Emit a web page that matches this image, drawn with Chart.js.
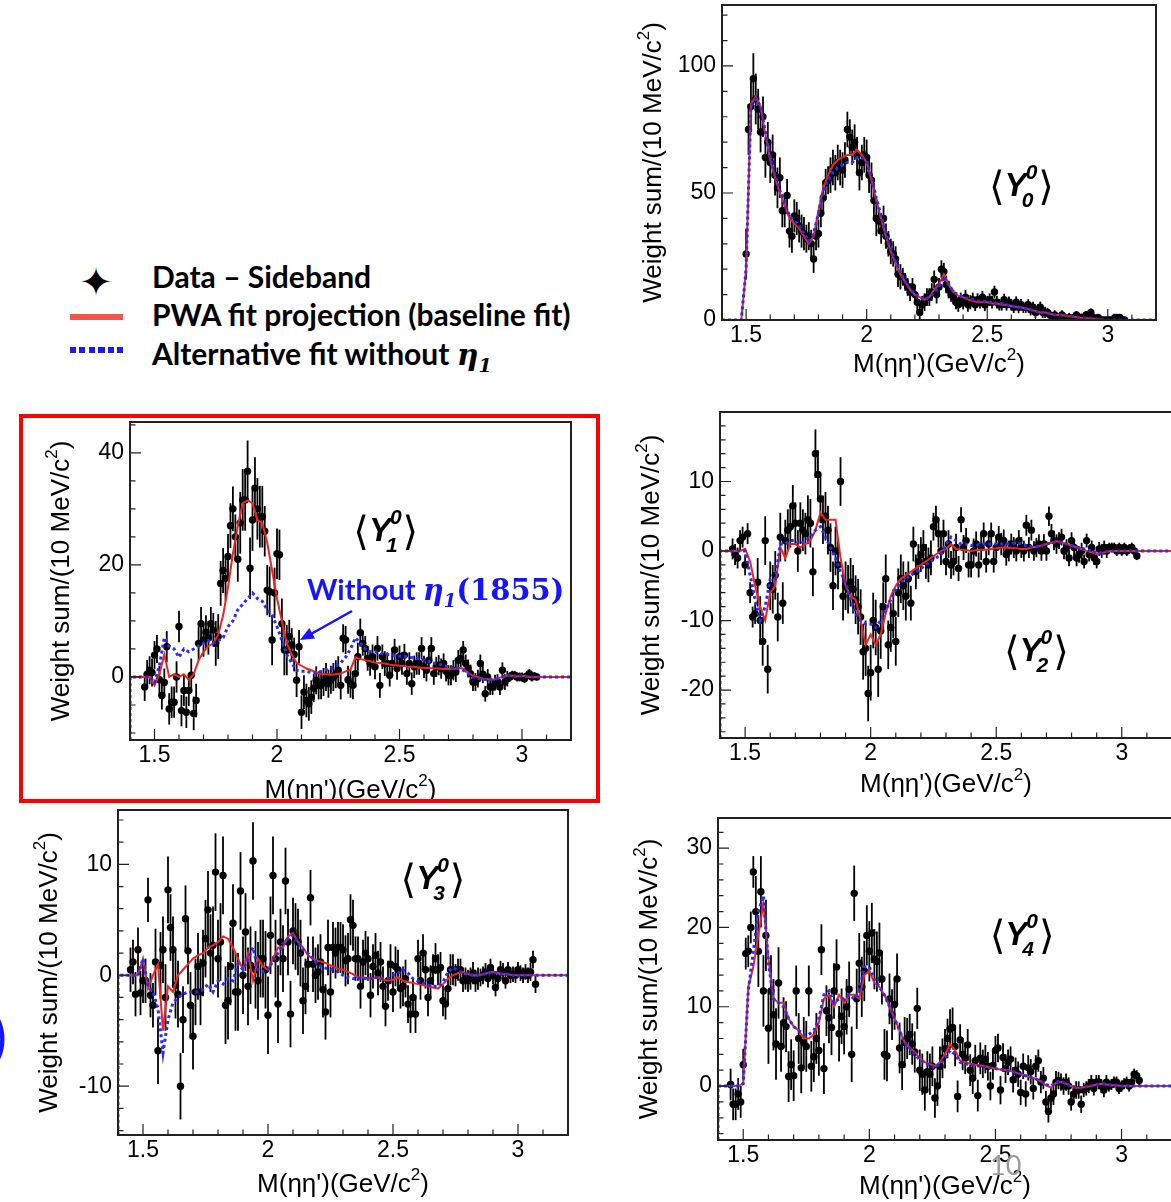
<!DOCTYPE html>
<html>
<head>
<meta charset="utf-8">
<script src="https://cdn.jsdelivr.net/npm/chart.js@4.4.1/dist/chart.umd.min.js"></script>
<style>
  body { margin: 0; width: 1171px; height: 1202px; position: relative; overflow: hidden; background: #fff; }
  canvas { position: absolute; }
  .leg { position: absolute; font-family: Lato, sans-serif; font-weight: bold; font-size: 30px; line-height: 34px; color: #000; white-space: nowrap; }
  .math { font-family: "DejaVu Serif", serif; font-style: italic; font-weight: bold; }
  .num { font-family: "DejaVu Serif", serif; font-weight: bold; }
</style>
</head>
<body>

<div class="leg" style="left:71px;top:258px;width:50px;line-height:48px;text-align:center;font-family:'DejaVu Sans';font-size:40px;font-weight:normal">✦</div>
<div class="leg" style="left:152px;top:259px">Data – Sideband</div>
<div style="position:absolute;left:70px;top:314px;width:53px;height:6px;background:#f5544a"></div>
<div class="leg" style="left:152px;top:297px">PWA fit projection (baseline fit)</div>
<div style="position:absolute;left:70px;top:347px;width:53px;height:6px;background:repeating-linear-gradient(90deg,#1a1aff 0 6px,transparent 6px 9.5px)"></div>
<div class="leg" style="left:152px;top:336px">Alternative fit without <span class="math">η<sub style="font-size:19px">1</sub></span></div>

<canvas id="c0"></canvas>
<canvas id="c1"></canvas>
<canvas id="c2"></canvas>
<canvas id="c3"></canvas>
<canvas id="c4"></canvas>

<div style="position:absolute;left:19px;top:414px;width:581px;height:389px;border:4px solid #ff0000;box-sizing:border-box"></div>
<div class="leg" style="left:307px;top:572px;color:#1414ff;font-size:29px">Without <span class="math">η<sub style="font-size:18px">1</sub></span><span class="num">(1855)</span></div>
<svg style="position:absolute;left:0;top:0" width="1171" height="1202">
  <line x1="352" y1="611" x2="311" y2="634" stroke="#1414ff" stroke-width="2.5"/>
  <polygon points="300,640 315.1,638.4 309.3,628" fill="#1414ff"/>
</svg>
<div class="leg" style="left:-8px;top:1006px;color:#1414ff;font-size:56px;line-height:60px;font-weight:normal">)</div>
<div class="leg" style="left:990px;top:1150px;color:#9a9a9a;font-size:27px;line-height:30px;font-weight:normal">10</div>

<script>
// bin centres of the data (10 MeV bins) and of the fit curves (20 MeV steps)
const DATA_MASS = Array.from({ length: 163 }, (_, i) => +(1.45 + 0.01 * i).toFixed(2));
const FIT_MASS = Array.from({ length: 91 }, (_, i) => +(1.40 + 0.02 * i).toFixed(2));

const X_TICKS = [1.5, 2, 2.5, 3];
const Y0_TICKS = [0, 50, 100];
const Y1_TICKS = [0, 20, 40];
const Y2_TICKS = [-20, -10, 0, 10];
const Y3_TICKS = [-10, 0, 10];
const Y4_TICKS = [0, 10, 20, 30];

// <Y00>
const Y0_DATA = [
  null,null,null,null,null,26,75,84,95,87,
  83,74,80,64,70,62,65,57,52,56,
  43,43,49,35,33,41,40,37,35,34,
  32,33,30,24,33,34,42,48,54,55,
  57,60,58,62,60,59,63,75,72,68,
  70,65,58,62,65,64,57,55,47,40,
  39,35,40,33,30,27,26,24,18,17,
  17,15,13,11,13,10,7,3,6,7,
  9,9,11,16,10,13,20,19,14,12,
  10,9,7,6,8,7,9,6,7,8,
  6,8,7,9,6,7,8,7,11,7,
  6,6,8,6,7,6,5,7,5,6,
  5,5,6,4,5,3,4,5,3,3,
  3,2,1,2,0,1,2,1,0,1,
  0,1,2,1,1,0,2,1,3,1,
  0,1,0,0,0,0,0,0,1,1,
  1,0,0
];
// error half-length, one value per 0.1 GeV row of the data
const Y0_ERR = [10,8,6.5,5.5,7,7,5,3.5,3.5,2.8,2.5,2.3,2.2,1.8,1.5,1.2,1];
const Y0_RED = [
  0,0,0,0,0,20,85,88,84,73,
  63,56,50,45,40,38,36,33,30,33,
  43,52,57,61,63,64,65,65,67,65,
  62,55,47,40,33,27,22,18,15,12,
  10,9,8,9,12,14,18,14,11,9.5,
  9,8,7.5,7,7,7,6.5,6.5,6,6,
  5.5,5,5,4.5,4,3.5,3,3,2.5,2,
  2,1.8,1.5,1.3,1,0.8,0.7,0.5,0.3,0.1,
  0,0,0,0,0,0,0,0,0,0,
  0
];
const Y0_BLUE = [
  0,0,0,0,0,20,84,87,84,74,
  64,57,51,46,41,39,37,34,31,34,
  42,51,55,58,60,61,62,62,64,64,
  62,56,48,41,34,28,23,19,15,12,
  10,9,8,9,11,13,17,14,11,10,
  9,8.5,8,7.5,7.5,7,7,6.5,6.5,6,
  5.5,5.2,5,4.5,4,3.5,3,3,2.5,2,
  2,1.8,1.5,1.3,1,0.8,0.7,0.5,0.3,0.1,
  0,0,0,0,0,0,0,0,0,0,
  0
];

// <Y01>
const Y1_DATA = [
  null,-1.8,0.5,1.2,0.8,3.9,5,-0.5,-3.3,-1,
  5.4,-5.7,-4.5,-4.5,0,9,-6,-2.4,-6.3,-2.4,
  0.3,-6.5,-4.2,6,9.5,6.6,8,7,9.5,8.4,
  6,7.2,16.7,19,17.6,21.5,27,30,25,21,
  27.5,31.6,31.6,36.7,19.4,28,33.7,30,28.6,28.6,
  26,15.5,15.2,6.6,15,22,21.8,9.5,4.8,4.8,
  7.2,5.7,4,-0.6,5.4,-6.3,-2.7,-4.2,-4.8,-3.6,
  -2,-0.6,-1.5,-1.5,-0.9,0,-1.2,-0.5,0,0.5,
  1.2,-1.5,6.9,6.6,-0.5,-1.2,-1.5,0.6,3.6,7.9,
  6,5.1,3.3,2.4,3.6,1.8,5.1,-1.5,3.6,2.4,
  2.4,0.3,2.4,4.8,1.5,3.6,2.4,3.9,0.6,2.4,
  -1.2,1.8,2.4,2.4,5.1,1.8,1.2,3,5.1,0.6,
  1.8,2.1,1.5,2.4,1,0.3,0.3,1.2,0.9,3,
  3.3,4.8,2.4,1.5,0.6,-0.9,-0.9,-0.3,2.4,0.5,
  -3,0,-1.8,-1.8,-1,-0.9,-1.8,1.2,-0.9,-0.3,
  0,0.3,0.3,0,0,0,-0.3,0.2,0.6,0,
  0.2,0,null
];
const Y1_ERR = [2.5,2.8,3,4,5.5,4.5,3,2.5,2.5,2.2,2,2,1.8,1.6,1.4,0.8,0.6];
const Y1_RED = [
  0,0,0,0,0,-1.5,0.5,4,0,0.5,
  0,0.5,-0.5,0.5,3,4.5,5.5,6,7.5,11,
  16,22,27,31,31.5,31,28,27.5,24,19,
  14,10,6,4,2.5,2,1.5,1.2,0.8,0.5,
  0.5,0.4,0.5,0.6,1,1.3,3.5,3.2,3,2.8,
  2.6,2.5,2.4,2.2,2.1,2,1.9,1.8,1.8,1.7,
  1.6,1.6,1.5,1.5,1.4,1.4,1.4,1.6,1.5,0.8,
  0.2,0,-0.3,-0.4,-0.5,-0.3,0,0.2,0.2,0.1,
  0.2,0.1,0,0,0,0,0,0,0,0,
  0
];
const Y1_BLUE = [
  0,0,0,0,0,-1,2,7,5.5,5,
  3.5,5,4.5,5,5.5,6,6.5,6,6.5,7,
  9,10,12,13,14,15,14,13.5,12,11,
  9,6.5,4,2.5,1.2,1,1,0.8,0.7,1,
  1.3,1.5,2,2.5,3.5,5,7,6,5,4.5,
  4.5,4.3,4,4,3.8,3.7,3.7,3.5,3.4,3.2,
  3,2.8,2.5,2.3,2,1.8,1.5,1.5,1.2,0.6,
  0,-0.3,-0.4,-0.5,-0.5,-0.3,0,0.2,0.2,0.1,
  0.2,0.1,0,0,0,0,0,0,0,0,
  0
];

// <Y02>
const Y2_DATA = [
  0.3,-0.5,-1,1.5,2,-2,2.5,-6,-9.5,-9,
  -4.5,-10,-13,1.5,-17,-5,-5.5,-3.5,-9.5,2,
  -7.5,1.5,3,3.5,6.5,4,0,4,3,2.5,
  4.5,4,-3,14,11,7.5,4.5,5,3,0.5,
  -5,0,-2,10,-6.5,-5,-5.5,-4.5,-5.5,-7,
  -8,-9.5,-14.5,-14,-20.5,-17.5,-10,-11,-17,-11.5,
  -8,-4,-13.5,-11,-9,-13,-6,-4,-5,-6.5,
  -4,-7.5,1,-3,-1.5,-0.5,0.5,-1.5,-2,-1,
  3.5,4.5,2.5,0,2.5,-1.5,1,-2,-1.5,0.5,
  -2.5,4.5,0.5,1.5,-2,-2,0,1,-2,0.5,
  2.5,-1.5,1,2.5,-1.5,0.5,2,1,1.5,-0.5,
  0,1,0.5,0,1.5,0.5,0,3.7,0.5,3,
  0,0.5,1,0,1,0,5,2.5,1.5,1,
  1.5,2,0,0.5,-1,1.5,0.5,-1,-0.5,0,
  -1.5,1.5,-0.5,0.5,-1,-1.5,0.3,0,0.5,0,
  0.5,0.5,0.5,0,0.5,0,0.5,0,0.3,0.5,
  0,-0.7,null
];
const Y2_ERR = [1.5,3.5,3,3.5,3.5,4,3.5,2.5,2,1.8,1.6,1.5,1.4,1.2,1,0.7,0.6];
const Y2_RED = [
  0,0,0,0,0,0.3,-1.5,-5,-8,-10,
  -6,-5,0.5,-1,1,1,0.5,1,1.5,3,
  5.5,4.5,4.5,4.5,-1,-5,-6.5,-7,-10,-13.5,
  -12,-13.5,-12,-9,-6.5,-5,-4,-3.5,-3,-2.5,
  -2,-1.5,-1,-0.5,0,0.3,1,0.3,0.2,0.1,
  0,0.1,0.2,0.2,0.3,0.4,0.5,0.5,0.4,0.4,
  0.3,0.3,0.5,0.6,0.8,1,1.2,1.4,1.3,1,
  0.8,0.5,0.3,0,-0.2,-0.4,-0.3,-0.1,0,0,
  0,0,0,0,0,0,0,0,0,0,
  0
];
const Y2_BLUE = [
  0,0,0,0,0,0,-3.5,-7,-10,-8,
  -4,-4,1,1,1.5,1.5,1,1.5,2,3,
  3.5,2,0.5,-1,-3,-4.5,-7,-9,-10,-10.5,
  -10.5,-11,-10,-8.5,-7,-5.5,-4.5,-4,-3.5,-3,
  -2.5,-2,-1.5,-1,-0.5,1,2,1.5,1,1,
  0.8,0.8,1,1,1,1,1,1,1,1.2,
  1,0.8,0.6,0.6,0.8,1,1.2,1.3,1.2,1,
  0.8,0.6,0.4,0.2,0,-0.2,-0.3,-0.1,0,0,
  0,0,0,0,0,0,0,0,0,0,
  0
];

// <Y03>
const Y3_DATA = [
  0.5,1.2,-1.7,2.3,-1.6,-0.5,-0.5,6.8,-1.8,-2.7,
  1.2,-6.8,0.9,2.3,-2,7.7,4.3,2.3,-0.9,-1.7,
  -10,-4,5.1,2.2,-2.7,-5.5,-1.5,0.8,-1.5,1.1,
  3.3,5.9,2,2.7,9.3,1.5,3,9,-2.7,-2.3,
  0.8,4.7,-1.5,-1.5,7.6,0,3.9,-1,0.9,10.3,
  0.5,-0.5,1.5,1.5,0.5,-3.6,3.6,9,1.5,-2.6,
  3,1.5,8.5,3,-3.5,4,3.5,3,2,-2.3,
  -1,1,7,1,0,0.3,1.2,-1.3,-3.3,2.5,
  -1.5,2.5,2,2.5,2.5,2.3,1.3,1.5,5,4.5,
  1.5,1.5,-1,1.2,2,1.5,-1.8,0.8,1.8,0.2,
  1.2,-1,-2.8,-0.5,1,-1.5,0.8,0.5,-1.2,-1,
  -0.3,-2.6,-3.5,-2,-3.5,1.5,-0.5,2,0.5,-2,
  -0.5,0.5,1.5,0.5,0.7,-2.3,-2.6,-1.2,0.5,0.5,
  0,0.5,0.5,-0.5,-0.3,-0.5,-0.3,0.2,-0.5,-0.3,
  -0.2,0,0.3,-0.3,0.7,0,-1.1,-0.3,0.5,0.3,
  -0.5,0.5,0,0.1,0,0.5,0.2,0,0.3,0,
  0.3,1.4,-0.8
];
const Y3_ERR = [2,3,3,3.5,3.5,3.5,3,2.5,2.3,2,1.8,1.7,1.4,1,0.8,0.7,0.8];
const Y3_RED = [
  0,0,0,0,0,1.5,-1.2,0,1,-5,
  -1,-1.5,0,0.5,1,1.5,1.8,2,2.5,2.7,
  3,3.5,3.3,2.5,1.5,0.5,2,-0.5,1.5,0.8,
  0.5,1.5,2.5,2.5,3.5,3.8,3,2.5,1.8,1.5,
  1.3,1.2,1,0.8,0.6,0.5,0.3,0.1,-0.2,-0.2,
  -0.3,-0.3,-0.2,-0.4,-0.5,-0.4,-0.2,-0.5,-0.6,-0.7,
  -0.8,-0.9,-1,-1.1,-1.2,-0.8,-0.3,0,0.2,0.3,
  0.1,0,0,0.1,0.2,0.3,0.2,0.1,0.1,0,
  0,0,0,0,0,0,0,0,0,0,
  0
];
const Y3_BLUE = [
  0,0,0,0,0,1.5,-1,-1.5,-3,-7,
  -4,-2.5,-2,-1.7,-1.5,-1.5,-1.5,-1.3,-0.8,-1.5,
  -0.5,-0.8,-0.3,-0.5,1,0.5,1.5,2.5,0.5,0.3,
  0.5,1.3,2,2.8,3.3,3.6,3,2.3,2,1.5,
  1,0.7,0.6,0.5,0.3,0,-0.2,-0.3,-0.3,-0.2,
  -0.4,-0.2,-0.2,-0.3,-0.3,0,0.2,0.5,0.2,-0.3,
  -0.5,-0.7,-0.9,-1,-1,-0.6,0.3,0.7,0.4,0.2,
  0.1,0,0,0.1,0.2,0.3,0.2,0.1,0.1,0,
  0,0,0,0,0,0,0,0,0,0,
  0
];

// <Y04>
const Y4_DATA = [
  0.2,-2.3,-2.3,-1,-2,2.7,16.7,17,20,27,
  22,17,24.5,12,19,7.3,12,9,5.3,13,
  5,8,7.5,1.2,2.7,1.3,12,6,2.3,5.5,
  5,12,2.5,3.7,6,4.5,17.2,2.2,9.5,8.6,
  7.4,12,15,6.6,8.8,7.5,10,12.2,4,24.3,
  11,15.5,12.5,14.5,19,17,19.3,16,15.7,16.8,
  13.5,4,3.8,11,9,10.3,13.5,4.8,2.7,5.5,
  6,6.5,5.3,4.3,9.8,2,1.5,-0.5,1.8,1.5,
  2.5,-1.5,0,2.5,3.5,4.7,6,7.2,7.4,5,
  -1.3,5.8,4,3.5,5.2,2,1,3.2,-1.2,3.5,
  2.8,3.4,2.5,0,2.6,4.5,4.8,-0.5,3.6,2.2,
  3,3.4,0.8,2,1.5,-0.8,2.5,-1,2.3,1.8,
  -0.3,2.5,3.2,0.5,1,-2,-3.2,-1.5,-1,0.5,
  0.7,0.5,0,0.5,0,-2,-1,-0.5,-0.5,-2.3,
  -0.5,-0.3,0,0.5,-0.3,0.5,0.5,0,-0.5,0.5,
  0,0.2,0.5,0.5,-0.3,0,0.3,0.5,0,0.5,
  1.5,1.3,0.7
];
const Y4_ERR = [2,4.5,3.2,3.2,3.5,3.8,3.2,2.6,2.5,2,1.8,1.6,1.4,1.1,0.9,0.7,0.7];
const Y4_RED = [
  0,0,0,0,0,0.3,12.5,15,19,23,
  16,11,10.5,10.5,8.5,7.5,7,6,6,6.5,
  8,11,11.5,10,11.5,10.5,11.5,11.5,11,14,
  14.5,13,12.5,11.5,10,8.5,7,5.5,4.8,4.3,
  3.5,3,2.8,2.5,3,4,5.3,4.5,3.2,3,
  2.8,2.7,2.6,2.5,2.3,2.2,2.1,2,1.9,1.7,
  1.5,1.3,1.1,0.9,0.6,0.1,-0.2,0.4,0.5,0.3,
  0,-0.2,-0.2,-0.1,0,0.2,0.3,0.2,0.1,0.1,
  0,0,0,0,0,0,0,0,0,0,
  0
];
const Y4_BLUE = [
  0,0,0,0,0,0.3,12,17,22,24,
  15.5,11,10.5,10,8.5,7.5,7,6.5,6.5,7,
  8.5,11.5,12,10.5,11,11,11.5,11,12,15,
  15,13.5,12.5,11.5,10,8.5,7,5.5,4.8,4,
  3.3,3,2.6,2.3,2.8,3.5,4.5,4,3,2.8,
  2.7,2.6,2.5,2.4,2.3,2.2,2.1,2,1.9,1.7,
  1.5,1.3,1.1,0.9,0.6,0.2,0,0.5,0.6,0.3,
  0,-0.2,-0.2,-0.1,0,0.2,0.3,0.2,0.1,0.1,
  0,0,0,0,0,0,0,0,0,0,
  0
];

const PANELS = [
  { canvas: 'c0', n: 0, frame: [722, 5, 1156, 320], yMin: 0, yMax: 124, yTicks: Y0_TICKS, yMinor: 10, titleGap: 45,
    data: Y0_DATA, err: Y0_ERR, red: Y0_RED, blue: Y0_BLUE, label: [0.69, 0.57] },
  { canvas: 'c1', n: 1, frame: [130, 422, 571, 740], yMin: -11.25, yMax: 45.5, yTicks: Y1_TICKS, yMinor: 5, titleGap: 51,
    data: Y1_DATA, err: Y1_ERR, red: Y1_RED, blue: Y1_BLUE, label: [0.58, 0.34] },
  { canvas: 'c2', n: 2, frame: [720, 412, 1172, 738], yMin: -26.9, yMax: 20, yTicks: Y2_TICKS, yMinor: 2, titleGap: 47,
    data: Y2_DATA, err: Y2_ERR, red: Y2_RED, blue: Y2_BLUE, label: [0.70, 0.73] },
  { canvas: 'c3', n: 3, frame: [118, 810, 568, 1135], yMin: -14.4, yMax: 14.9, yTicks: Y3_TICKS, yMinor: 2, titleGap: 50,
    data: Y3_DATA, err: Y3_ERR, red: Y3_RED, blue: Y3_BLUE, label: [0.70, 0.21] },
  { canvas: 'c4', n: 4, frame: [718, 818, 1172, 1140], yMin: -6.8, yMax: 33.8, yTicks: Y4_TICKS, yMinor: 2, titleGap: 47,
    data: Y4_DATA, err: Y4_ERR, red: Y4_RED, blue: Y4_BLUE, label: [0.67, 0.36] }
];

const AXIS_FONT = '"Liberation Sans", Arial, sans-serif';

// text with a superscript piece, centred on (cx, cy)
function drawWithSup(ctx, before, sup, after, cx, cy, size) {
  ctx.font = size + 'px ' + AXIS_FONT;
  const w1 = ctx.measureText(before).width, w3 = ctx.measureText(after).width;
  ctx.font = Math.round(size * 0.65) + 'px ' + AXIS_FONT;
  const w2 = ctx.measureText(sup).width;
  let x = cx - (w1 + w2 + w3) / 2;
  ctx.textAlign = 'left';
  ctx.textBaseline = 'middle';
  ctx.font = size + 'px ' + AXIS_FONT;
  ctx.fillText(before, x, cy);
  x += w1;
  ctx.font = Math.round(size * 0.65) + 'px ' + AXIS_FONT;
  ctx.fillText(sup, x, cy - size * 0.38);
  x += w2;
  ctx.font = size + 'px ' + AXIS_FONT;
  ctx.fillText(after, x, cy);
}

function drawMoment(ctx, cx, cy, n) {
  const fb = '40px "DejaVu Sans", "Noto Sans CJK SC"';
  const fy = 'italic bold 33px ' + AXIS_FONT;
  const fs = 'italic bold 21px ' + AXIS_FONT;
  ctx.textAlign = 'left';
  ctx.textBaseline = 'alphabetic';
  ctx.font = fb; const wb = ctx.measureText('⟨').width;
  ctx.font = fy; const wy = ctx.measureText('Y').width;
  ctx.font = fs; const ws = ctx.measureText('0').width;
  let x = cx - (2 * wb + wy + ws) / 2;
  const base = cy + 11;
  ctx.font = fb; ctx.fillText('⟨', x, base + 4); x += wb;
  ctx.font = fy; ctx.fillText('Y', x, base); x += wy;
  ctx.font = fs;
  ctx.fillText('0', x - 1, base - 17);
  ctx.fillText(String(n), x - 5, base + 11);
  x += ws;
  ctx.font = fb; ctx.fillText('⟩', x, base + 4);
}

function panelPlugin(p) {
  return {
    id: 'frame' + p.n,
    afterDatasetDraw(chart, args) {
      if (args.index !== 0) return;
      const { ctx, chartArea: a, scales: { x, y } } = chart;
      ctx.save();
      ctx.beginPath();
      ctx.rect(a.left, a.top, a.right - a.left, a.bottom - a.top);
      ctx.clip();
      ctx.strokeStyle = '#000';
      ctx.lineWidth = 1.8;
      p.data.forEach((v, i) => {
        if (v === null) return;
        const e = p.err[Math.floor(i / 10)];
        const px = x.getPixelForValue(DATA_MASS[i]);
        ctx.beginPath();
        ctx.moveTo(px, y.getPixelForValue(v - e));
        ctx.lineTo(px, y.getPixelForValue(v + e));
        ctx.stroke();
      });
      ctx.restore();
    },
    afterDraw(chart) {
      const { ctx, chartArea: a, scales: { x, y } } = chart;
      ctx.save();
      ctx.strokeStyle = '#222';
      ctx.fillStyle = '#000';
      ctx.lineWidth = 2;
      ctx.strokeRect(a.left, a.top, a.right - a.left, a.bottom - a.top);

      ctx.lineWidth = 1.2;
      ctx.beginPath();
      for (let k = 14; k <= 32; k++) {
        const px = x.getPixelForValue(k / 10);
        const len = k % 5 === 0 ? 11 : 5.5;
        ctx.moveTo(px, a.bottom);
        ctx.lineTo(px, a.bottom - len);
      }
      for (let k = Math.ceil(p.yMin / p.yMinor); k * p.yMinor <= p.yMax; k++) {
        const v = k * p.yMinor;
        const py = y.getPixelForValue(v);
        const len = p.yTicks.includes(v) ? 11 : 5.5;
        ctx.moveTo(a.left, py);
        ctx.lineTo(a.left + len, py);
      }
      ctx.stroke();

      ctx.font = '23px ' + AXIS_FONT;
      ctx.textAlign = 'center';
      ctx.textBaseline = 'top';
      X_TICKS.forEach(v => ctx.fillText(String(v), x.getPixelForValue(v), a.bottom + 4));
      ctx.textAlign = 'right';
      ctx.textBaseline = 'middle';
      p.yTicks.forEach(v => ctx.fillText(String(v), a.left - 6, y.getPixelForValue(v)));

      drawWithSup(ctx, "M(ηη')(GeV/c", '2', ')', (a.left + a.right) / 2, a.bottom + p.titleGap, 26);
      ctx.save();
      ctx.translate(a.left - 68, (a.top + a.bottom) / 2);
      ctx.rotate(-Math.PI / 2);
      drawWithSup(ctx, 'Weight sum/(10 MeV/c', '2', ')', 0, 0, 26);
      ctx.restore();

      drawMoment(ctx, a.left + p.label[0] * (a.right - a.left), a.top + p.label[1] * (a.bottom - a.top), p.n);
      ctx.restore();
    }
  };
}

PANELS.forEach(p => {
  const [l, t, r, b] = p.frame;
  const x0 = l - 115, y0 = Math.max(0, t - 10);
  const w = r + 10 - x0, h = b + 80 - y0;
  const cv = document.getElementById(p.canvas);
  cv.width = w; cv.height = h;
  cv.style.left = x0 + 'px'; cv.style.top = y0 + 'px';
  cv.style.width = w + 'px'; cv.style.height = h + 'px';

  const points = [];
  p.data.forEach((v, i) => { if (v !== null) points.push({ x: DATA_MASS[i], y: v }); });
  const curve = arr => [{ x: FIT_MASS[0], y: p.yMin }].concat(FIT_MASS.map((m, i) => ({ x: m, y: arr[i] })));

  new Chart(cv, {
    type: 'scatter',
    data: {
      datasets: [
        { data: points, showLine: false, pointRadius: 3.7, pointBackgroundColor: '#000', pointBorderWidth: 0, order: 3 },
        { data: curve(p.red), showLine: true, borderColor: '#ee2420', borderWidth: 2, pointRadius: 0, order: 2 },
        { data: curve(p.blue), showLine: true, borderColor: '#2a2aff', borderWidth: 3, borderDash: [3, 3], pointRadius: 0, order: 1 }
      ]
    },
    options: {
      responsive: false,
      animation: false,
      devicePixelRatio: 1,
      events: [],
      layout: { padding: { left: l - x0, top: t - y0, right: x0 + w - r, bottom: y0 + h - b } },
      scales: {
        x: { type: 'linear', min: 1.4, max: 3.2, display: false },
        y: { type: 'linear', min: p.yMin, max: p.yMax, display: false }
      },
      plugins: { legend: { display: false }, tooltip: { enabled: false } }
    },
    plugins: [panelPlugin(p)]
  });
});
</script>
</body>
</html>
